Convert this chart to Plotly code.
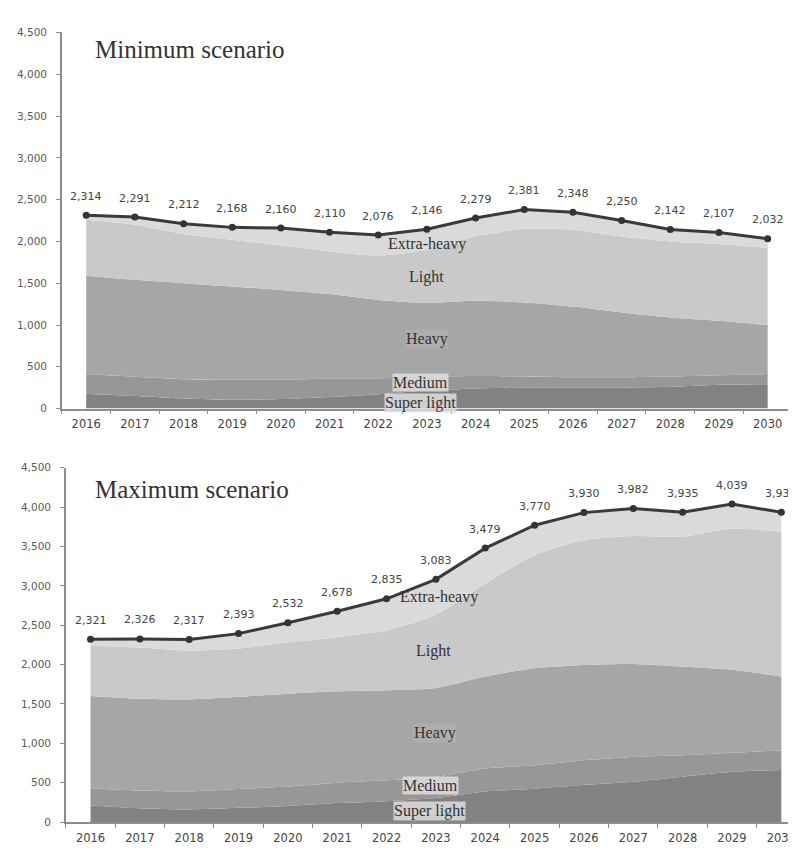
import plotly.graph_objects as go

years = ["2016", "2017", "2018", "2019", "2020", "2021", "2022", "2023",
         "2024", "2025", "2026", "2027", "2028", "2029", "2030"]
y_ticks = [0, 500, 1000, 1500, 2000, 2500, 3000, 3500, 4000, 4500]
layer_names = ["Super light", "Medium", "Heavy", "Light", "Extra-heavy"]
layer_colors = ["#828282", "#979797", "#a6a6a6", "#c9c9c9", "#dadada"]

# Minimum scenario
min_total = [2314, 2291, 2212, 2168, 2160, 2110, 2076, 2146, 2279, 2381, 2348, 2250, 2142, 2107, 2032]
min_super_light = [177, 150, 120, 105, 115, 140, 170, 215, 240, 250, 248, 250, 260, 285, 290]
min_medium = [236, 230, 230, 240, 230, 220, 190, 165, 150, 135, 127, 125, 125, 115, 123]
min_heavy = [1177, 1160, 1150, 1115, 1075, 1010, 940, 885, 900, 885, 845, 775, 705, 650, 587]
min_light = [670, 660, 590, 560, 530, 510, 530, 635, 770, 880, 920, 910, 910, 920, 920]
min_extra_heavy = [54, 91, 122, 148, 210, 230, 246, 246, 219, 231, 208, 190, 142, 137, 112]

# Maximum scenario
max_total = [2321, 2326, 2317, 2393, 2532, 2678, 2835, 3083, 3479, 3770, 3930, 3982, 3935, 4039, 3934]
max_super_light = [210, 175, 160, 180, 205, 240, 265, 305, 388, 422, 472, 513, 576, 638, 660]
max_medium = [220, 225, 230, 240, 245, 260, 265, 271, 292, 300, 313, 313, 272, 243, 250]
max_heavy = [1170, 1165, 1167, 1170, 1180, 1160, 1144, 1127, 1169, 1231, 1210, 1182, 1126, 1052, 939]
max_light = [640, 651, 620, 613, 652, 688, 761, 930, 1180, 1437, 1585, 1624, 1651, 1796, 1835]
max_extra_heavy = [81, 110, 140, 190, 250, 330, 400, 450, 450, 380, 350, 350, 310, 310, 250]

W, H = 788, 842  # page body has an 8px margin

panels = [
    dict(name="Minimum scenario", total=min_total,
         layers=[min_super_light, min_medium, min_heavy, min_light, min_extra_heavy],
         xa="x", ya="y",
         label_pos=[(6.87, 62), (6.87, 310), (7.0, 829), (7.0, 1572), (7.0, 1972)],
         title_y=1 - 36 / H),
    dict(name="Maximum scenario", total=max_total,
         layers=[max_super_light, max_medium, max_heavy, max_light, max_extra_heavy],
         xa="x2", ya="y2",
         label_pos=[(6.86, 134), (6.9, 459), (6.98, 1136), (6.96, 2175), (7.06, 2863)],
         title_y=1 - 482 / H),
]

fig = go.Figure()
annotations = []
for p in panels:
    for name, vals, col in zip(layer_names, p["layers"], layer_colors):
        fig.add_trace(go.Scatter(
            x=years, y=vals, name=name, stackgroup=p["name"],
            mode="lines", line=dict(width=0, shape="spline", smoothing=0.7),
            fillcolor=col, xaxis=p["xa"], yaxis=p["ya"], showlegend=False,
            hoverinfo="skip"))
    fig.add_trace(go.Scatter(
        x=years, y=p["total"], mode="lines+markers",
        line=dict(color="#3a3a3a", width=3),
        marker=dict(color="#333333", size=7),
        xaxis=p["xa"], yaxis=p["ya"], showlegend=False))
    for i, v in enumerate(p["total"]):
        annotations.append(dict(
            x=i, y=v, xref=p["xa"], yref=p["ya"], text=f"{v:,}",
            showarrow=False, yshift=19,
            font=dict(family="DejaVu Sans", size=11, color="#444444")))
    for name, (lx, ly) in zip(layer_names, p["label_pos"]):
        if name in ("Medium", "Super light"):
            bg = "rgba(222,222,222,0.85)"
        elif name == "Heavy":
            bg = "rgba(190,190,190,0.35)"
        else:
            bg = "rgba(0,0,0,0)"
        annotations.append(dict(
            x=lx, y=ly, xref=p["xa"], yref=p["ya"], text=name,
            showarrow=False, bgcolor=bg, borderpad=0,
            font=dict(family="Liberation Serif", size=16, color="#333333")))
    annotations.append(dict(
        x=85 / W, y=p["title_y"], xref="paper", yref="paper",
        xanchor="left", yanchor="middle", text=p["name"], showarrow=False,
        font=dict(family="Liberation Serif", size=25, color="#333333")))

xaxis_common = dict(
    type="category", showline=True, linecolor="#8c8c8c", linewidth=1.5,
    ticks="outside", tickson="boundaries", ticklen=4, tickcolor="#8c8c8c",
    showgrid=False, zeroline=False, ticklabelstandoff=4,
    tickfont=dict(family="DejaVu Sans", size=11.5, color="#444444"))
yaxis_common = dict(
    range=[0, 4500], tickvals=y_ticks, tickformat=",",
    showline=True, linecolor="#8c8c8c", linewidth=1.5,
    ticks="outside", ticklen=4, tickcolor="#8c8c8c",
    showgrid=False, zeroline=False, ticklabelstandoff=7,
    tickfont=dict(family="DejaVu Sans", size=10.5, color="#5a5a5a"))

fig.update_layout(
    width=W, height=H,
    margin=dict(l=0, r=0, t=0, b=0),
    paper_bgcolor="white", plot_bgcolor="white",
    xaxis=dict(domain=[54 / W, 786 / W], range=[-0.5, 14.5], anchor="y", **xaxis_common),
    yaxis=dict(domain=[1 - 400.3 / H, 1 - 18.7 / H], anchor="x", **yaxis_common),
    xaxis2=dict(domain=[58 / W, 1.0], range=[-0.5, 14.257], anchor="y2", **xaxis_common),
    yaxis2=dict(domain=[1 - 819.7 / H, 1 - 460.3 / H], anchor="x2", **yaxis_common),
    annotations=annotations,
)

fig.write_html("out.html")
